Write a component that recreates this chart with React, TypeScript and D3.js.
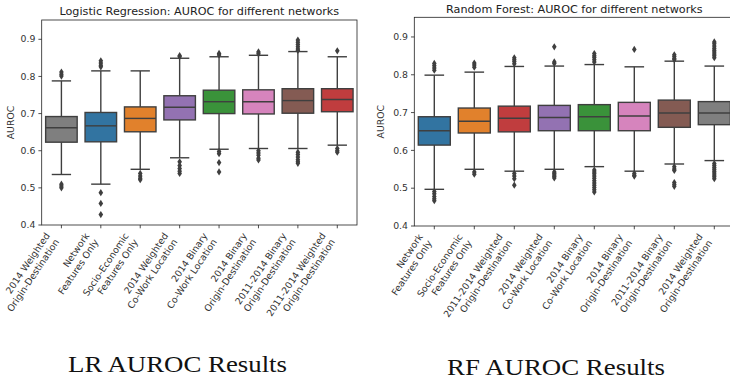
import React from "react";
import { scaleBand, scaleLinear } from "d3";

// category colours shared by both panels (seaborn default, desaturated)
const palette: Record<string, string> = {
  "2014 Weighted\nOrigin-Destination": "#7f7f7f",
  "Network\nFeatures Only": "#3274a1",
  "Socio-Economic\nFeatures Only": "#e1812c",
  "2014 Weighted\nCo-Work Location": "#9372b2",
  "2014 Binary\nCo-Work Location": "#3a923a",
  "2014 Binary\nOrigin-Destination": "#d684bd",
  "2011-2014 Binary\nOrigin-Destination": "#845b53",
  "2011-2014 Weighted\nOrigin-Destination": "#c03d3e",
};

const yTicks = [0.4, 0.5, 0.6, 0.7, 0.8, 0.9];

// Logistic regression
const lrLabels = [
  "2014 Weighted\nOrigin-Destination",
  "Network\nFeatures Only",
  "Socio-Economic\nFeatures Only",
  "2014 Weighted\nCo-Work Location",
  "2014 Binary\nCo-Work Location",
  "2014 Binary\nOrigin-Destination",
  "2011-2014 Binary\nOrigin-Destination",
  "2011-2014 Weighted\nOrigin-Destination",
];
const lrWhiskerLow = [0.536, 0.51, 0.55, 0.581, 0.604, 0.606, 0.606, 0.615];
const lrQ1 = [0.623, 0.624, 0.651, 0.683, 0.7, 0.699, 0.701, 0.705];
const lrMedian = [0.662, 0.667, 0.687, 0.717, 0.732, 0.732, 0.735, 0.738];
const lrQ3 = [0.692, 0.703, 0.718, 0.748, 0.763, 0.764, 0.767, 0.767];
const lrWhiskerHigh = [0.788, 0.815, 0.815, 0.849, 0.853, 0.857, 0.867, 0.853];
const lrOutliers = [
  [0.812, 0.806, 0.801, 0.51, 0.505, 0.5],
  [0.842, 0.836, 0.83, 0.826, 0.487, 0.458, 0.428],
  [0.539, 0.532, 0.526, 0.522],
  [0.856, 0.853, 0.57, 0.56, 0.552, 0.545, 0.539],
  [0.862, 0.858, 0.598, 0.592, 0.568, 0.543],
  [0.866, 0.861, 0.6, 0.594, 0.588, 0.58, 0.575],
  [0.898, 0.892, 0.886, 0.88, 0.874, 0.87, 0.596, 0.59, 0.583, 0.576, 0.57, 0.566],
  [0.869, 0.606, 0.6, 0.596],
];

// Random forest
const rfLabels = [
  "Network\nFeatures Only",
  "Socio-Economic\nFeatures Only",
  "2011-2014 Weighted\nOrigin-Destination",
  "2014 Weighted\nCo-Work Location",
  "2014 Binary\nCo-Work Location",
  "2014 Binary\nOrigin-Destination",
  "2011-2014 Binary\nOrigin-Destination",
  "2014 Weighted\nOrigin-Destination",
];
const rfWhiskerLow = [0.497, 0.55, 0.545, 0.55, 0.557, 0.545, 0.564, 0.573];
const rfQ1 = [0.614, 0.646, 0.649, 0.652, 0.652, 0.652, 0.661, 0.668];
const rfMedian = [0.652, 0.677, 0.685, 0.687, 0.689, 0.691, 0.699, 0.699];
const rfQ3 = [0.689, 0.712, 0.717, 0.719, 0.721, 0.727, 0.733, 0.729];
const rfWhiskerHigh = [0.799, 0.807, 0.822, 0.823, 0.827, 0.821, 0.836, 0.823];
const rfOutliers = [
  [0.83, 0.824, 0.818, 0.812, 0.491, 0.485, 0.478, 0.472, 0.467],
  [0.831, 0.826, 0.82, 0.543, 0.537],
  [0.845, 0.84, 0.835, 0.829, 0.539, 0.532, 0.525, 0.508],
  [0.874, 0.834, 0.83, 0.543, 0.539, 0.535, 0.531, 0.527],
  [0.856, 0.85, 0.846, 0.84, 0.834, 0.548, 0.543, 0.538, 0.532, 0.526, 0.52, 0.514, 0.508, 0.502, 0.496, 0.49],
  [0.867, 0.539, 0.534, 0.532],
  [0.853, 0.848, 0.843, 0.84, 0.557, 0.551, 0.547, 0.515, 0.51, 0.505],
  [0.887, 0.882, 0.876, 0.87, 0.865, 0.86, 0.855, 0.85, 0.845, 0.565, 0.56, 0.555, 0.55, 0.545, 0.54, 0.535, 0.53, 0.525],
];

const LINE = "#3f3f3f";
const FS = 9.33;
const ANGLE = 56;

type PanelProps = {
  title: string;
  caption: string;
  labels: string[];
  lo: number[];
  q1: number[];
  med: number[];
  q3: number[];
  hi: number[];
  out: number[][];
  left: number;
  right: number;
  top: number;
  bottom: number;
  ylabelX: number;
  titleY: number;
  captionX: number;
  captionY: number;
  captionW: number;
};

function BoxPanel(p: PanelProps) {
  const x = scaleBand<string>().domain(p.labels).range([p.left, p.right]);
  const y = scaleLinear().domain([0.4, 0.952]).range([p.bottom, p.top]);
  const bw = x.bandwidth();
  const boxW = bw * 0.8;
  const capW = bw * 0.49;

  const rad = (ANGLE * Math.PI) / 180;
  const lh = FS * 1.2;
  const H = lh + FS * 1.02;

  return (
    <g>
      <text
        x={(p.left + p.right) / 2}
        y={p.titleY}
        textAnchor="middle"
        fontSize={11.2}
        fill="#222"
      >
        {p.title}
      </text>

      {p.labels.map((k, i) => {
        const cx = (x(k) ?? 0) + bw / 2;
        const color = palette[k];
        return (
          <g key={i}>
            <line x1={cx} x2={cx} y1={y(p.q3[i])} y2={y(p.hi[i])} stroke={LINE} strokeWidth={1.4} />
            <line x1={cx} x2={cx} y1={y(p.q1[i])} y2={y(p.lo[i])} stroke={LINE} strokeWidth={1.4} />
            <line x1={cx - capW / 2} x2={cx + capW / 2} y1={y(p.hi[i])} y2={y(p.hi[i])} stroke={LINE} strokeWidth={1.4} />
            <line x1={cx - capW / 2} x2={cx + capW / 2} y1={y(p.lo[i])} y2={y(p.lo[i])} stroke={LINE} strokeWidth={1.4} />
            <rect
              x={cx - boxW / 2}
              y={y(p.q3[i])}
              width={boxW}
              height={y(p.q1[i]) - y(p.q3[i])}
              fill={color}
              stroke={LINE}
              strokeWidth={1.4}
            />
            <line x1={cx - boxW / 2} x2={cx + boxW / 2} y1={y(p.med[i])} y2={y(p.med[i])} stroke={LINE} strokeWidth={1.4} />
            {p.out[i].map((v, j) => (
              <path
                key={j}
                transform={`translate(${cx},${y(v)})`}
                d="M0,-3.6L2.3,0L0,3.6L-2.3,0Z"
                fill={LINE}
              />
            ))}
          </g>
        );
      })}

      {/* frame */}
      <rect
        x={p.left}
        y={p.top}
        width={p.right - p.left}
        height={p.bottom - p.top}
        fill="none"
        stroke="#222"
        strokeWidth={0.8}
      />

      {/* y axis */}
      {yTicks.map((t) => (
        <g key={t} transform={`translate(${p.left},${y(t)})`}>
          <line x1={-3.3} x2={0} stroke="#222" strokeWidth={0.8} />
          <text x={-6.3} dy="0.34em" textAnchor="end" fontSize={FS} fill="#333">
            {t.toFixed(1)}
          </text>
        </g>
      ))}
      <text
        transform={`translate(${p.ylabelX},${(p.top + p.bottom) / 2}) rotate(-90)`}
        textAnchor="middle"
        dy="0.35em"
        fontSize={FS}
        fill="#333"
      >
        AUROC
      </text>

      {/* x axis */}
      {p.labels.map((k, i) => {
        const cx = (x(k) ?? 0) + bw / 2;
        const ox = cx - Math.sin(rad) * H;
        const oy = p.bottom + 6.6;
        return (
          <g key={i}>
            <line x1={cx} x2={cx} y1={p.bottom} y2={p.bottom + 3.3} stroke="#222" strokeWidth={0.8} />
            <text
              transform={`translate(${ox},${oy}) rotate(${-ANGLE})`}
              textAnchor="end"
              fontSize={FS}
              fill="#333"
            >
              {k.split("\n").map((line, j) => (
                <tspan key={j} x={0} y={FS * 0.78 + j * lh}>
                  {line}
                </tspan>
              ))}
            </text>
          </g>
        );
      })}

      <text
        x={p.captionX}
        y={p.captionY}
        textAnchor="middle"
        fontFamily="'Liberation Serif', serif"
        fontSize={23}
        textLength={p.captionW}
        lengthAdjust="spacingAndGlyphs"
        fill="#111"
      >
        {p.caption}
      </text>
    </g>
  );
}

export default function App() {
  return (
    <svg
      width={730}
      height={382}
      style={{ position: "fixed", left: 0, top: 0, background: "#fff" }}
      fontFamily="'DejaVu Sans', sans-serif"
    >
      <BoxPanel
        title="Logistic Regression: AUROC for different networks"
        caption="LR AUROC Results"
        labels={lrLabels}
        lo={lrWhiskerLow}
        q1={lrQ1}
        med={lrMedian}
        q3={lrQ3}
        hi={lrWhiskerHigh}
        out={lrOutliers}
        left={41.7}
        right={357}
        top={20}
        bottom={225}
        ylabelX={11}
        titleY={15}
        captionX={177.5}
        captionY={371.5}
        captionW={219}
      />
      <BoxPanel
        title="Random Forest: AUROC for different networks"
        caption="RF AUROC Results"
        labels={rfLabels}
        lo={rfWhiskerLow}
        q1={rfQ1}
        med={rfMedian}
        q3={rfQ3}
        hi={rfWhiskerHigh}
        out={rfOutliers}
        left={414.3}
        right={734.3}
        top={17.3}
        bottom={226}
        ylabelX={381}
        titleY={12.5}
        captionX={556}
        captionY={375}
        captionW={218}
      />
    </svg>
  );
}
